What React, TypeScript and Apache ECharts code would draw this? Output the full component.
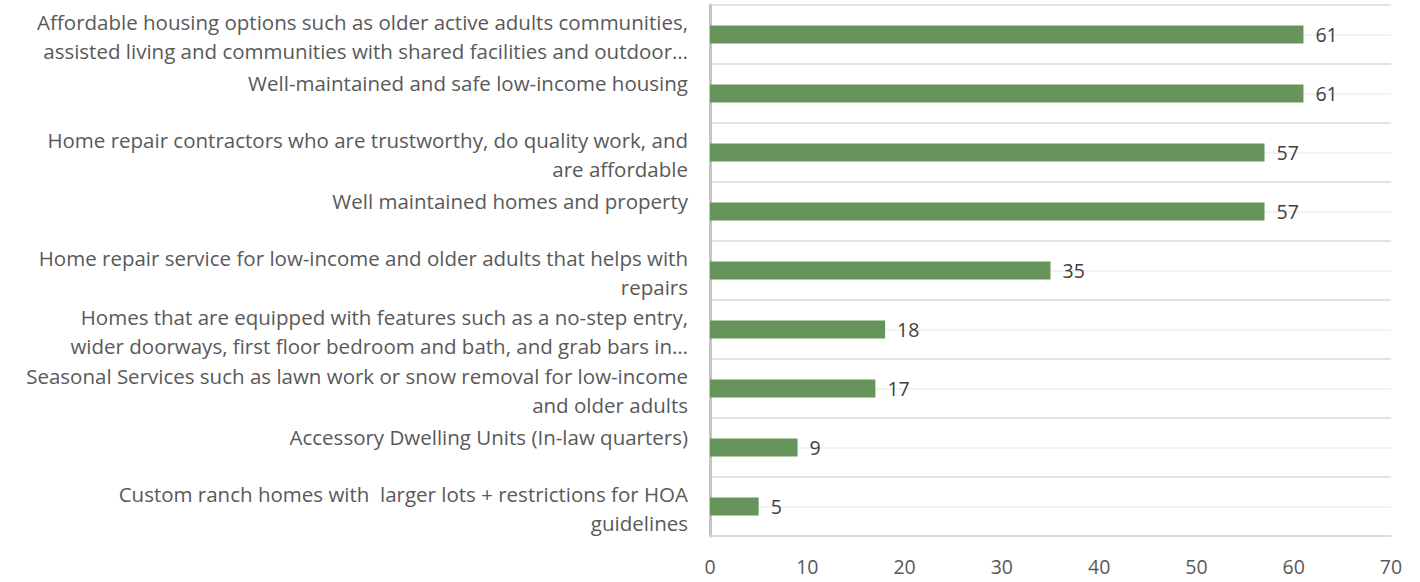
import React, { useEffect, useRef } from "react";
import * as echarts from "echarts";

const categories: string[] = [
  "Affordable housing options such as older active adults communities,\nassisted living and communities with shared facilities and outdoor…",
  "Well-maintained and safe low-income housing",
  "Home repair contractors who are trustworthy, do quality work, and\nare affordable",
  "Well maintained homes and property",
  "Home repair service for low-income and older adults that helps with\nrepairs",
  "Homes that are equipped with features such as a no-step entry,\nwider doorways, first floor bedroom and bath, and grab bars in…",
  "Seasonal Services such as lawn work or snow removal for low-income\nand older adults",
  "Accessory Dwelling Units (In-law quarters)",
  "Custom ranch homes with  larger lots + restrictions for HOA\nguidelines",
];

const values: number[] = [61, 61, 57, 57, 35, 18, 17, 9, 5];

const xTicks = { min: 0, max: 70, interval: 10 };

export default function App() {
  const ref = useRef<HTMLDivElement>(null);
  useEffect(() => {
    if (!ref.current) return;
    const chart = echarts.init(ref.current, undefined, { renderer: "svg" });
    const font = "'Open Sans', 'Liberation Sans', sans-serif";
    chart.setOption({
      animation: false,
      grid: { left: 710, right: 29, top: 5, bottom: 46, containLabel: false },
      xAxis: {
        type: "value",
        min: xTicks.min,
        max: xTicks.max,
        interval: xTicks.interval,
        splitLine: { show: false },
        axisTick: { show: false },
        axisLine: { show: true, lineStyle: { color: "#d9d9d9", width: 1.5 } },
        axisLabel: { color: "#595959", fontSize: 19.5, fontFamily: font, margin: 20 },
      },
      yAxis: {
        type: "category",
        inverse: true,
        data: categories,
        axisTick: { show: false },
        axisLine: { show: true, lineStyle: { color: "#c4c4c4", width: 3 } },
        splitLine: { show: true, lineStyle: { color: "#d9d9d9", width: 1.5 } },
        axisLabel: {
          color: "#595959",
          fontSize: 20.5,
          fontFamily: font,
          lineHeight: 29,
          margin: 22,
          align: "right",
          formatter: (v: string) =>
            v.indexOf("\n") >= 0
              ? v
                  .split("\n")
                  .map((l) => "{d|" + l + "}")
                  .join("\n")
              : "{s|" + v + "}\n{s| }",
          rich: {
            d: { fontSize: 20.5, fontFamily: font, color: "#595959", lineHeight: 29, padding: [4, 0, 0, 0] },
            s: { fontSize: 20.5, fontFamily: font, color: "#595959", lineHeight: 22 },
          },
        },
      },
      series: [
        {
          type: "line",
          data: [],
          silent: true,
          z: 1,
          markLine: {
            z: 1,
            silent: true,
            symbol: "none",
            label: { show: false },
            lineStyle: { color: "#efefef", width: 1.5, type: "solid" },
            data: categories.map((c) => ({ yAxis: c })),
          },
        },
        {
          type: "bar",
          data: values,
          barWidth: 18,
          z: 3,
          itemStyle: { color: "#67945b" },
          label: {
            show: true,
            position: "right",
            distance: 12,
            color: "#404040",
            fontSize: 19.5,
            fontFamily: font,
          },
        },
      ],
    });
    return () => chart.dispose();
  }, []);
  return (
    <div
      ref={ref}
      style={{ position: "fixed", left: 0, top: 0, width: 1420, height: 582, background: "#fff" }}
    />
  );
}
